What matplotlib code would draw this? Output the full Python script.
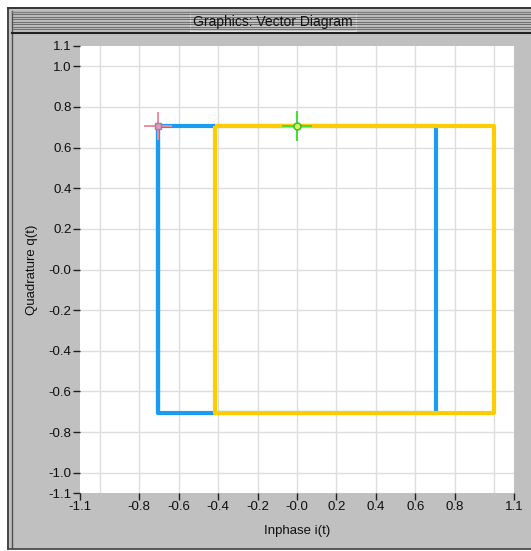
import numpy as np
import matplotlib.pyplot as plt
from matplotlib.patches import Rectangle

plt.rcParams['font.family'] = ['Liberation Sans', 'DejaVu Sans']

# ── Data ───────────────────────────────────────────────────────────────────────

blue_i   = [-0.707, -0.707, 0.707, 0.707, -0.707, -0.707]
blue_q   = [0.707, -0.707, -0.707, 0.707, 0.707, -0.707]
yellow_i = [-0.414, -0.414, 1.0, 1.0, -0.414]
yellow_q = [0.707, -0.707, -0.707, 0.707, 0.707]

pink_pt  = (-0.707, 0.707)
green_pt = (0.0, 0.707)

x_ticks  = [-1.1, -0.8, -0.6, -0.4, -0.2, 0.0, 0.2, 0.4, 0.6, 0.8, 1.1]
x_labels = ["-1.1", "-0.8", "-0.6", "-0.4", "-0.2", "-0.0", "0.2", "0.4", "0.6", "0.8", "1.1"]
y_ticks  = [-1.1, -1.0, -0.8, -0.6, -0.4, -0.2, 0.0, 0.2, 0.4, 0.6, 0.8, 1.0, 1.1]
y_labels = ["-1.1", "-1.0", "-0.8", "-0.6", "-0.4", "-0.2", "-0.0", "0.2", "0.4", "0.6", "0.8", "1.0", "1.1"]
grid_pos = [-1.0, -0.8, -0.6, -0.4, -0.2, 0.0, 0.2, 0.4, 0.6, 0.8, 1.0]

W, H = 531, 551
PANEL = "#c0c0c0"

fig = plt.figure(figsize=(W / 100, H / 100), dpi=100)
fig.patch.set_facecolor("white")

# ── Window frame (pixel coords) ────────────────────────────────────────────────

fr = fig.add_axes([0, 0, 1, 1], zorder=0)
fr.set_xlim(0, W)
fr.set_ylim(H, 0)
fr.axis("off")

fr.add_patch(Rectangle((7, 7), W - 7, 542, facecolor=PANEL, edgecolor="none"))
fr.plot([7.5, W], [7.5, 7.5], color="#202020", lw=1.2)
fr.plot([7.5, 7.5], [7.5, 548.5], color="#303030", lw=1.2)
fr.plot([11.5, 11.5], [11, 548], color="#505050", lw=1)
fr.plot([7.5, W], [548.5, 548.5], color="#404040", lw=1.2)
fr.plot([11.5, W], [11.5, 11.5], color="#808080", lw=1)
# striped title bar
for y in np.arange(14, 31, 2.5):
    fr.plot([13, W], [y, y], color="#707070", lw=0.8)
fr.plot([11.5, W], [32.5, 32.5], color="#202020", lw=1.5)
fr.add_patch(Rectangle((190, 12), 166, 19, facecolor="#c8c8c8", edgecolor="#e8e8e8", lw=0.8))
fr.text(273, 22, "Graphics: Vector Diagram", ha="center", va="center", fontsize=10, color="#101010")

fr.text(297, 531, "Inphase i(t)", ha="center", va="center", fontsize=9.5, color="#101010")
fr.text(32, 270, "Quadrature q(t)", ha="center", va="center", rotation=90, fontsize=9.5, color="#101010")

# ── Plot area ─────────────────────────────────────────────────────────────────

left, right, top, bottom = 80, 514, 46, 493
ax = fig.add_axes([left / W, 1 - bottom / H, (right - left) / W, (bottom - top) / H], zorder=1)
ax.set_facecolor("white")
for s in ax.spines.values():
    s.set_visible(False)

for g in grid_pos:
    ax.axvline(g, color="#dedede", lw=1, zorder=0)
    ax.axhline(g, color="#dedede", lw=1, zorder=0)

ax.plot(blue_i, blue_q, color="#1a9cf0", lw=3, solid_capstyle="butt", zorder=2)
ax.plot(yellow_i, yellow_q, color="#ffcc00", lw=3, solid_capstyle="butt", zorder=3)

ax.plot(*pink_pt, marker="+", ms=20, mew=1.4, color="#ec8c9c", zorder=4)
ax.plot(*pink_pt, marker="s", ms=4, mfc="#d8a0c0", mec="#c07090", zorder=5)
ax.plot(*green_pt, marker="+", ms=21, mew=1.4, color="#44dd33", zorder=4)
ax.plot(*green_pt, marker="o", ms=5, mfc="#d8f060", mec="#33bb22", mew=1, zorder=5)

ax.set_xlim(-1.1, 1.1)
ax.set_ylim(-1.1, 1.1)
ax.set_xticks(x_ticks)
ax.set_xticklabels(x_labels)
ax.set_yticks(y_ticks)
ax.set_yticklabels(y_labels)
ax.tick_params(direction="out", length=5, width=1, color="#202020",
               labelsize=9.5, labelcolor="#101010", pad=1)

plt.savefig("out.png", dpi=100, facecolor=fig.get_facecolor())
